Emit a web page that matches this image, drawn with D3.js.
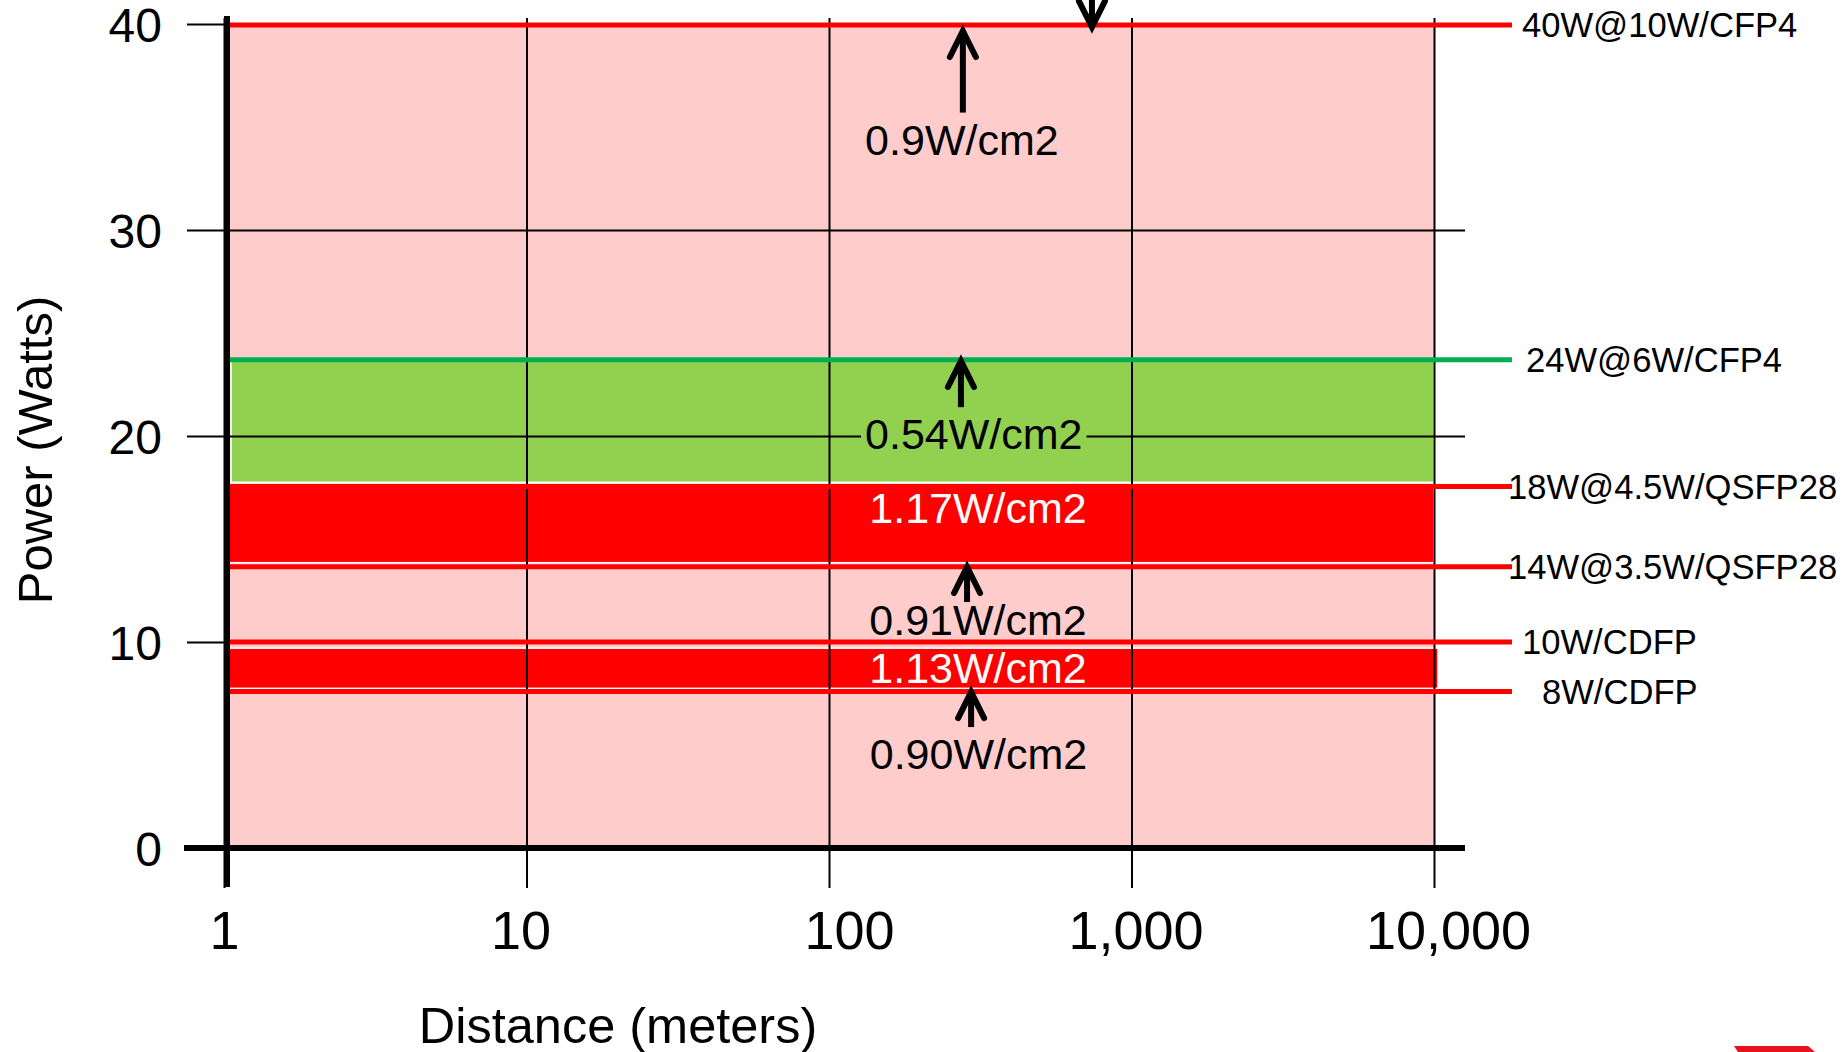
<!DOCTYPE html>
<html>
<head>
<meta charset="utf-8">
<script src="https://cdn.jsdelivr.net/npm/d3@7"></script>
<style>
  html, body { margin: 0; padding: 0; background: #fff; }
  svg { display: block; }
  text { font-family: "Liberation Sans", Arial, sans-serif; }
</style>
</head>
<body>
<svg id="chart" width="1845" height="1052"></svg>
<script>
// ---------- data ----------
const xTicks = [1, 10, 100, 1000, 10000];
const xTickLabels = ["1", "10", "100", "1,000", "10,000"];
const yTicks = [0, 10, 20, 30, 40];

const seriesLabels = ["40W@10W/CFP4", "24W@6W/CFP4", "18W@4.5W/QSFP28", "14W@3.5W/QSFP28", "10W/CDFP", "8W/CDFP"];
const seriesWatts  = [39.95, 23.7, 17.55, 13.65, 10.0, 7.6];

const bandLow  = [0, 17.75, 13.85, 7.75];
const bandHigh = [40, 23.7, 17.65, 9.7];
const bandFrom = [1, 1, 1, 1];
const bandTo   = [10000, 10000, 10000, 10000];

const densityLabels = ["0.9W/cm2", "0.54W/cm2", "1.17W/cm2", "0.91W/cm2", "1.13W/cm2", "0.90W/cm2"];
const densityDist   = [275, 301, 311, 311, 311, 312];
const densityWatts  = [34.4, 20.1, 16.55, 11.07, 8.74, 4.61];

const arrowDist = [277, 273, 286, 295, 740];
const arrowFrom = [35.7, 21.4, 11.94, 5.87, 44];
const arrowTo   = [39.66, 23.64, 13.64, 7.57, 39.85];

// ---------- styles ----------
const seriesColors = ["#FF0000", "#00B050", "#FF0000", "#FF0000", "#FF0000", "#FF0000"];
const labelDx = [88, 92, 74, 74, 88, 108];
const xLabelDx = [0, -6, 20, 4, 14];
const bandColors = ["#FFCCCC", "#92D050", "#FF0000", "#FF0000"];
const densityColors = ["#000", "#000", "#fff", "#000", "#fff", "#000"];
const densityBg = [null, "#92D050", null, null, null, null];

// ---------- scales ----------
const svg = d3.select("#chart");
const x = d3.scaleLog().domain([1, 10000]).range([224, 1434]);
const y = d3.scaleLinear().domain([0, 40]).range([848, 24]);

// bands
svg.append("g").selectAll("rect").data(bandLow).join("rect")
  .attr("x", (d, i) => x(bandFrom[i]) + (i === 1 ? 7 : 4))
  .attr("y", (d, i) => y(bandHigh[i]))
  .attr("width", (d, i) => x(bandTo[i]) - x(bandFrom[i]) - (i === 1 ? 7 : 4) + (i === 3 ? 4 : 0))
  .attr("height", (d, i) => y(bandLow[i]) - y(bandHigh[i]))
  .attr("fill", (d, i) => bandColors[i])
  .attr("stroke", (d, i) => i === 0 ? "none" : "#fff")
  .attr("stroke-width", 1.5);

// horizontal gridlines + y tick labels
const yAxis = d3.axisLeft(y).tickValues(yTicks).tickSizeInner(-(1465 - 187)).tickSizeOuter(0).tickPadding(25);
const gy = svg.append("g").attr("transform", "translate(187,0)").call(yAxis);
gy.select(".domain").remove();
gy.selectAll(".tick line").attr("stroke", "#000").attr("stroke-width", 2);
gy.selectAll(".tick text").attr("font-size", 48).attr("fill", "#000")
  .attr("font-family", "Liberation Sans, Arial, sans-serif").attr("dy", "0.36em");

// vertical gridlines + x tick labels
const xAxis = d3.axisBottom(x).tickValues(xTicks).tickFormat((d, i) => xTickLabels[i])
  .tickSizeInner(-(888 - 18)).tickSizeOuter(0).tickPadding(23);
const gx = svg.append("g").attr("transform", "translate(0,888)").call(xAxis);
gx.select(".domain").remove();
gx.selectAll(".tick line").attr("stroke", "#000").attr("stroke-width", 2);
gx.selectAll(".tick text").attr("font-size", 54).attr("fill", "#000")
  .attr("font-family", "Liberation Sans, Arial, sans-serif")
  .attr("dx", (d, i) => xLabelDx[i]);

// series lines
svg.append("g").selectAll("line").data(seriesWatts).join("line")
  .attr("x1", x(1) + 3).attr("x2", x(10000) + 78)
  .attr("y1", d => y(d)).attr("y2", d => y(d))
  .attr("stroke", (d, i) => seriesColors[i]).attr("stroke-width", 5);

// series labels
svg.append("g").selectAll("text").data(seriesLabels).join("text")
  .attr("x", (d, i) => x(10000) + labelDx[i])
  .attr("y", (d, i) => y(seriesWatts[i]))
  .attr("dy", "0.36em")
  .attr("font-size", 34.6).attr("fill", "#000")
  .text(d => d);

// axes lines
svg.append("line").attr("x1", 184).attr("x2", 1465).attr("y1", y(0)).attr("y2", y(0))
  .attr("stroke", "#000").attr("stroke-width", 6);
svg.append("line").attr("x1", x(1) + 3).attr("x2", x(1) + 3).attr("y1", y(40) - 8).attr("y2", 887)
  .attr("stroke", "#000").attr("stroke-width", 6);

// arrows
const ag = svg.append("g");
arrowDist.forEach((d, i) => {
  const ax = x(d), t = y(arrowTo[i]), f = y(arrowFrom[i]);
  const dir = f > t ? 1 : -1; // 1: pointing up
  ag.append("line").attr("x1", ax).attr("x2", ax).attr("y1", f).attr("y2", t + dir * 3)
    .attr("stroke", "#000").attr("stroke-width", 6);
  ag.append("path")
    .attr("d", `M${ax - 13},${t + dir * 26} L${ax},${t} L${ax + 13},${t + dir * 26}`)
    .attr("fill", "none").attr("stroke", "#000").attr("stroke-width", 6)
    .attr("stroke-linecap", "round").attr("stroke-linejoin", "miter");
});

// density labels
const dg = svg.append("g");
densityLabels.forEach((lab, i) => {
  const cx = x(densityDist[i]), cy = y(densityWatts[i]);
  const t = dg.append("text").attr("x", cx).attr("y", cy).attr("dy", "0.36em")
    .attr("text-anchor", "middle").attr("font-size", 43).attr("fill", densityColors[i]).text(lab);
  if (densityBg[i]) {
    const bb = t.node().getBBox();
    dg.insert("rect", () => t.node())
      .attr("x", bb.x - 4).attr("y", cy - 8).attr("width", bb.width + 8).attr("height", 16)
      .attr("fill", densityBg[i]);
  }
});

// axis titles
svg.append("text").attr("transform", "translate(52,450) rotate(-90)")
  .attr("text-anchor", "middle").attr("font-size", 49).attr("fill", "#000").text("Power (Watts)");
svg.append("text").attr("x", 618).attr("y", 1043)
  .attr("text-anchor", "middle").attr("font-size", 50.5).attr("fill", "#000").text("Distance (meters)");

// logo fragment bottom right
svg.append("path").attr("d", "M1734,1046 L1808,1046 L1815,1052 L1738,1052 Z").attr("fill", "#E8101A");
</script>
</body>
</html>
